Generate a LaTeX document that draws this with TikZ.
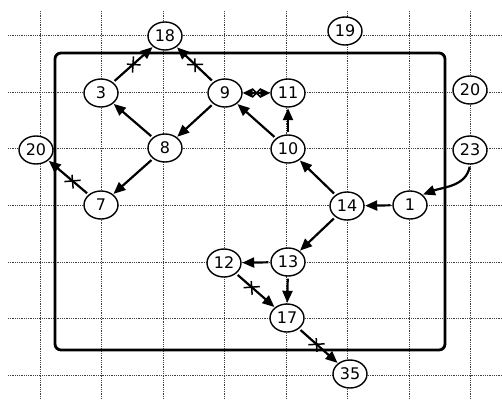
\documentclass[tikz,border=0pt]{standalone}
\usepackage{fontspec}
\setmainfont{DejaVu Sans}
\usetikzlibrary{shapes.geometric,shapes.misc,arrows.meta}
\tikzset{
  vnode/.style={ellipse,draw,line width=1.4pt,fill=white,minimum width=34pt,minimum height=28pt,inner sep=0pt,font=\fontsize{16}{18}\selectfont},
  gridline/.style={line width=0.8pt,densely dotted,black!75},
  edge/.style={line width=2.2pt,-{Triangle[length=12pt,width=10pt]},shorten <=2pt,shorten >=0.5pt},
  cut/.style={cross out,draw,line width=1.5pt,minimum size=10pt,inner sep=0pt,sloped},
  boxline/.style={line width=2.8pt,rounded corners=6pt}
}
\begin{document}
\begin{tikzpicture}[x=1pt,y=-1pt]
\useasboundingbox (0,0) rectangle (502,399);
% grid
\foreach \gx in {40,101,163,224,286,347,409,470} \draw[gridline] (\gx,11) -- (\gx,399);
\foreach \gy in {35,92,148,205,262,318,375} \draw[gridline] (8,\gy) -- (502,\gy);
% frame
\draw[boxline] (55,53) rectangle (445,350);
% nodes
\node[vnode] (n18) at (165,36) {18};
\node[vnode] (n19) at (345,31) {19};
\node[vnode] (n20r) at (470,90) {20};
\node[vnode] (n23) at (470,150) {23};
\node[vnode] (n3) at (101,93) {3};
\node[vnode] (n9) at (225,93) {9};
\node[vnode] (n11) at (288,93) {11};
\node[vnode] (n8) at (165,148) {8};
\node[vnode] (n10) at (288,149) {10};
\node[vnode] (n20l) at (36,150) {20};
\node[vnode] (n7) at (101,205) {7};
\node[vnode] (n14) at (347,206) {14};
\node[vnode] (n1) at (410,205) {1};
\node[vnode] (n12) at (224,263) {12};
\node[vnode] (n13) at (288,262) {13};
\node[vnode] (n17) at (287,318) {17};
\node[vnode] (n35) at (350,374) {35};
% edges
\draw[edge] (n3) -- node[cut]{} (n18);
\draw[edge] (n9) -- node[cut]{} (n18);
\draw[edge] (n8) -- (n3);
\draw[edge] (n9) -- (n8);
\draw[edge] (n8) -- (n7);
\draw[edge] (n7) -- node[cut,pos=0.4]{} (n20l);
\draw[line width=2.2pt,{Triangle[length=10pt,width=9pt]}-{Triangle[length=10pt,width=9pt]}] (n9) -- node[cut,minimum size=7pt]{} (n11);
\draw[edge] (n10) -- (n11);
\draw[edge] (n10) -- (n9);
\draw[edge] (n14) -- (n10);
\draw[edge] (n1) -- (n14);
\draw[edge] (n23.south) to[out=-100,in=20] (n1.north east);
\draw[edge] (n14) -- (n13);
\draw[edge] (n13) -- (n12);
\draw[edge] (n13) -- (n17);
\draw[edge] (n12) -- node[cut,pos=0.4]{} (n17);
\draw[edge] (n17) -- node[cut,pos=0.45]{} (n35);
\end{tikzpicture}
\end{document}
